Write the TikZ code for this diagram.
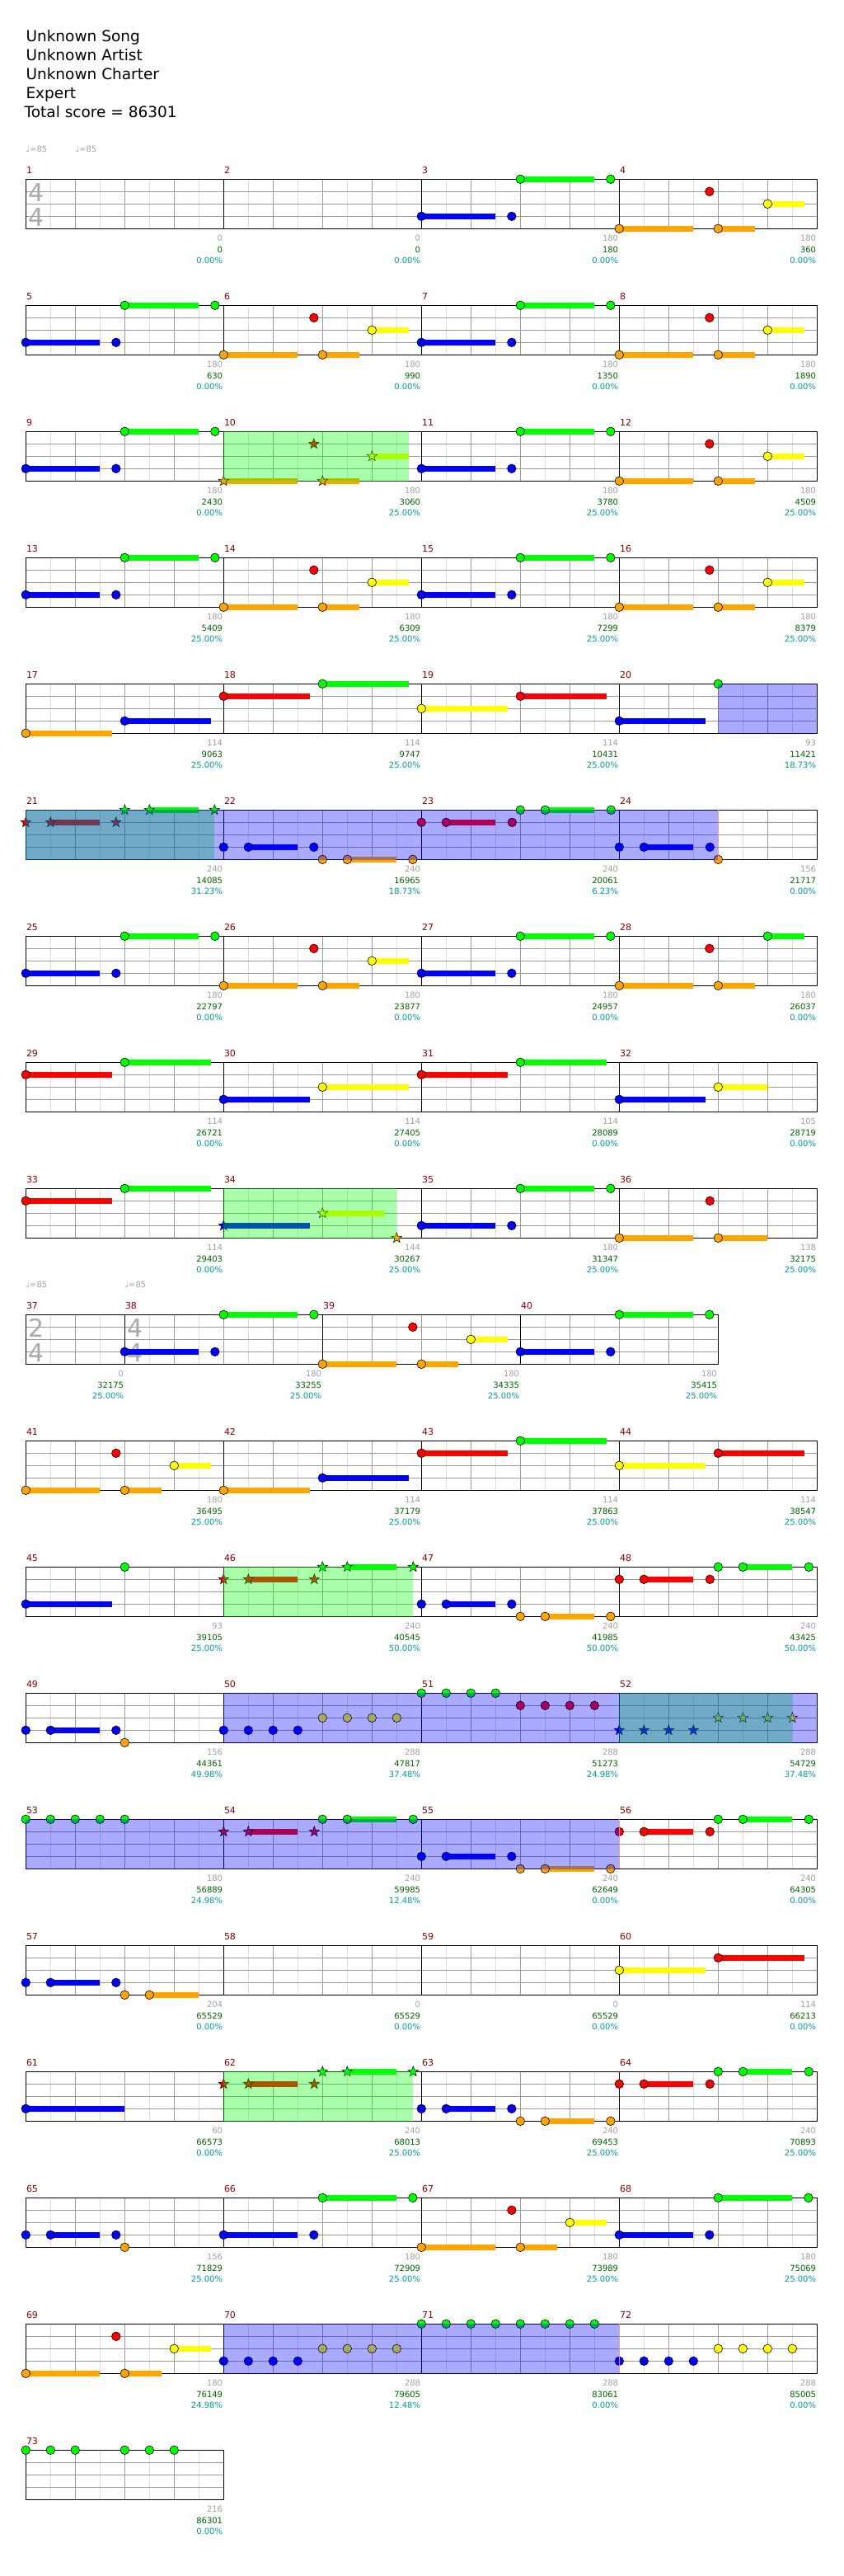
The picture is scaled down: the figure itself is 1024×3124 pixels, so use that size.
\documentclass[tikz,border=0pt]{standalone}
\usepackage{fontspec}
\setmainfont{DejaVu Sans}
\usetikzlibrary{shapes.geometric}
\definecolor{lane0}{RGB}{0,255,0}
\definecolor{lane1}{RGB}{255,0,0}
\definecolor{lane2}{RGB}{255,255,0}
\definecolor{lane3}{RGB}{0,0,255}
\definecolor{lane4}{RGB}{255,165,0}
\definecolor{mnumc}{RGB}{139,0,0}
\definecolor{gscore}{RGB}{0,100,0}
\definecolor{pctc}{RGB}{0,153,153}
\definecolor{glab}{RGB}{160,160,160}
\definecolor{lgr}{RGB}{221,221,221}
\definecolor{dgr}{RGB}{155,155,155}
\definecolor{tsc}{RGB}{170,170,170}
\definecolor{endc}{RGB}{240,150,150}
\tikzset{
 lgrid/.style={draw=lgr,line width=1pt},
 dgrid/.style={draw=dgr,line width=1pt},
 bline/.style={draw=black,line width=1pt},
 mnum/.style={anchor=base west,inner sep=0pt,text=mnumc,font=\fontsize{11}{12}\selectfont},
 lab/.style={anchor=base east,inner sep=0pt,font=\fontsize{10}{12}\selectfont},
 tsig/.style={inner sep=0pt,text=tsc,font=\fontsize{30}{30}\selectfont},
 titl/.style={anchor=base west,inner sep=0pt,font=\fontsize{18.5}{23}\selectfont},
 tempo/.style={anchor=base west,inner sep=0pt,text=glab,font=\fontsize{10}{12}\selectfont},
 starn/.style={star,star points=5,star point ratio=2.4,minimum size=13pt,inner sep=0pt,draw=black,line width=0.5pt},
 ovb/.style={fill=lane3,fill opacity=0.333},
 ovg/.style={fill=lane0,fill opacity=0.333},
 ovend/.style={draw=endc,line width=1pt},
}
\newcommand\Nt[2]{\filldraw[fill=lane#2,draw=black,line width=0.6pt] (#1,{#2*15}) circle (5.3pt);}
\newcommand\Su[3]{\fill[lane#2] (#1,{#2*15-3.5}) rectangle (#3,{#2*15+3.5});}
\newcommand\St[2]{\node[starn,fill=lane#2] at (#1,{#2*15}) {};}
\newcommand\M[3]{\begin{scope}[shift={(#1,#2)}]#3\end{scope}}
\newcommand\Lb[4]{\node[lab,text=glab] at ({#1-1},75.4) {#2};\node[lab,text=gscore] at ({#1-1},88.7) {#3};\node[lab,text=pctc] at ({#1-1},101.7) {#4};}
\newcommand\GF[1]{\draw[lgrid] (30,0)--(30,60) (90,0)--(90,60) (150,0)--(150,60) (210,0)--(210,60);
 \draw[dgrid] (60,0)--(60,60) (120,0)--(120,60) (180,0)--(180,60) (0,15)--(240,15) (0,30)--(240,30) (0,45)--(240,45);
 \draw[bline] (0,0) rectangle (240,60);
 \node[mnum] at (0.5,-7.3) {#1};}
\newcommand\GH[1]{\draw[lgrid] (30,0)--(30,60) (90,0)--(90,60);
 \draw[dgrid] (60,0)--(60,60) (0,15)--(120,15) (0,30)--(120,30) (0,45)--(120,45);
 \draw[bline] (0,0) rectangle (120,60);
 \node[mnum] at (0.5,-7.3) {#1};}
\newcommand\TS[2]{\node[tsig] at (13,16) {#1};\node[tsig] at (13,46) {#2};}
\newcommand\PA{\Su{0}{3}{89.5}\Su{120}{0}{209.5}\Nt{0}{3}\Nt{109.5}{3}\Nt{120}{0}\Nt{229.5}{0}}
\newcommand\PB[1]{\Su{0}{4}{89.5}\Su{120}{4}{164.5}\Su{180}{#1}{224.5}\Nt{0}{4}\Nt{109.5}{1}\Nt{120}{4}\Nt{180}{#1}}
\newcommand\PC{\Nt{0}{3}\Su{30}{3}{89.5}\Nt{30}{3}\Nt{109.5}{3}\Nt{120}{4}\Su{150}{4}{209.5}\Nt{150}{4}\Nt{229.5}{4}}
\newcommand\PD{\Nt{0}{1}\Su{30}{1}{90}\Nt{30}{1}\Nt{110}{1}\Nt{120}{0}\Su{150}{0}{210}\Nt{150}{0}\Nt{230}{0}}
\begin{document}
\begin{tikzpicture}[x=1pt,y=-1pt]
\useasboundingbox (0,0) rectangle (1024,3124);
\fill[white] (0,0) rectangle (1024,3124);
% title
\node[titl] at (31.3,50) {Unknown Song};
\node[titl] at (31.3,73) {Unknown Artist};
\node[titl] at (31.3,96) {Unknown Charter};
\node[titl] at (31.3,119) {Expert};
\node[titl] at (29.5,142) {Total score = 86301};
\node[tempo] at (31.3,184) {♩=85};
\node[tempo] at (91.3,184) {♩=85};
\node[tempo] at (31.3,1561) {♩=85};
\node[tempo] at (151.3,1561) {♩=85};
% grids
\foreach \r in {0,...,17}{
 \foreach \k in {0,...,3}{
  \pgfmathtruncatemacro\mm{4*\r+\k+1}
  \ifnum\r=9\relax\else
  \M{31.3+240*\k}{217.3+153*\r}{\GF{\mm}}
  \fi
 }}
\M{31.3}{1594.3}{\GH{37}}
\M{151.3}{1594.3}{\GF{38}}
\M{391.3}{1594.3}{\GF{39}}
\M{631.3}{1594.3}{\GF{40}}
\M{31.3}{2971.3}{\GF{73}}
% ---- row 0
\M{31.3}{217.3}{\TS{4}{4}\Lb{240}{0}{0}{0.00\%}}
\M{271.3}{217.3}{\Lb{240}{0}{0}{0.00\%}}
\M{511.3}{217.3}{\PA\Lb{240}{180}{180}{0.00\%}}
\M{751.3}{217.3}{\PB{2}\Lb{240}{180}{360}{0.00\%}}
% ---- row 1
\M{31.3}{370.3}{\PA\Lb{240}{180}{630}{0.00\%}}
\M{271.3}{370.3}{\PB{2}\Lb{240}{180}{990}{0.00\%}}
\M{511.3}{370.3}{\PA\Lb{240}{180}{1350}{0.00\%}}
\M{751.3}{370.3}{\PB{2}\Lb{240}{180}{1890}{0.00\%}}
% ---- row 2
\M{31.3}{523.3}{\PA\Lb{240}{180}{2430}{0.00\%}}
\M{271.3}{523.3}{\Su{0}{4}{89.5}\Su{120}{4}{164.5}\Su{180}{2}{224.5}\St{0}{4}\St{109.5}{1}\St{120}{4}\St{180}{2}
 \fill[ovg] (0,-0.5) rectangle (224.6,60.5);\Lb{240}{180}{3060}{25.00\%}}
\M{511.3}{523.3}{\PA\Lb{240}{180}{3780}{25.00\%}}
\M{751.3}{523.3}{\PB{2}\Lb{240}{180}{4509}{25.00\%}}
% ---- row 3
\M{31.3}{676.3}{\PA\Lb{240}{180}{5409}{25.00\%}}
\M{271.3}{676.3}{\PB{2}\Lb{240}{180}{6309}{25.00\%}}
\M{511.3}{676.3}{\PA\Lb{240}{180}{7299}{25.00\%}}
\M{751.3}{676.3}{\PB{2}\Lb{240}{180}{8379}{25.00\%}}
% ---- row 4
\M{31.3}{829.3}{\Su{0}{4}{104.5}\Nt{0}{4}\Su{120}{3}{224.5}\Nt{120}{3}\Lb{240}{114}{9063}{25.00\%}}
\M{271.3}{829.3}{\Su{0}{1}{104.5}\Nt{0}{1}\Su{120}{0}{224.5}\Nt{120}{0}\Lb{240}{114}{9747}{25.00\%}}
\M{511.3}{829.3}{\Su{0}{2}{104.5}\Nt{0}{2}\Su{120}{1}{224.5}\Nt{120}{1}\Lb{240}{114}{10431}{25.00\%}}
\M{751.3}{829.3}{\Su{0}{3}{104.5}\Nt{0}{3}\Nt{120}{0}\fill[ovb] (120,-0.5) rectangle (240,60.5);\Lb{240}{93}{11421}{18.73\%}}
% ---- row 5
\M{31.3}{982.3}{\St{0}{1}\Su{30}{1}{89.5}\St{30}{1}\St{109.5}{1}\St{120}{0}\Su{150}{0}{209.5}\St{150}{0}\St{229}{0}}
\M{271.3}{982.3}{\Nt{0}{3}\Su{30}{3}{90}\Nt{30}{3}\Nt{109.5}{3}\Nt{120}{4}\Su{150}{4}{210}\Nt{150}{4}\Nt{229.5}{4}}
\M{511.3}{982.3}{\PD}
\M{751.3}{982.3}{\Nt{0}{3}\Su{30}{3}{90}\Nt{30}{3}\Nt{110}{3}\Nt{120}{4}}
\M{31.3}{982.3}{\fill[ovg] (0,-0.5) rectangle (229,60.5);\fill[ovb] (0,-0.5) rectangle (840,60.5);
 \draw[ovend] (840,0)--(840,60);
 \Lb{240}{240}{14085}{31.23\%}}
\M{271.3}{982.3}{\Lb{240}{240}{16965}{18.73\%}}
\M{511.3}{982.3}{\Lb{240}{240}{20061}{6.23\%}}
\M{751.3}{982.3}{\Lb{240}{156}{21717}{0.00\%}}
% ---- row 6
\M{31.3}{1135.3}{\PA\Lb{240}{180}{22797}{0.00\%}}
\M{271.3}{1135.3}{\PB{2}\Lb{240}{180}{23877}{0.00\%}}
\M{511.3}{1135.3}{\PA\Lb{240}{180}{24957}{0.00\%}}
\M{751.3}{1135.3}{\PB{0}\Lb{240}{180}{26037}{0.00\%}}
% ---- row 7
\M{31.3}{1288.3}{\Su{0}{1}{104.5}\Nt{0}{1}\Su{120}{0}{224.5}\Nt{120}{0}\Lb{240}{114}{26721}{0.00\%}}
\M{271.3}{1288.3}{\Su{0}{3}{105}\Nt{0}{3}\Su{120}{2}{224.5}\Nt{120}{2}\Lb{240}{114}{27405}{0.00\%}}
\M{511.3}{1288.3}{\Su{0}{1}{104.5}\Nt{0}{1}\Su{120}{0}{224.5}\Nt{120}{0}\Lb{240}{114}{28089}{0.00\%}}
\M{751.3}{1288.3}{\Su{0}{3}{105}\Nt{0}{3}\Su{120}{2}{180}\Nt{120}{2}\Lb{240}{105}{28719}{0.00\%}}
% ---- row 8
\M{31.3}{1441.3}{\Su{0}{1}{104.5}\Nt{0}{1}\Su{120}{0}{224.5}\Nt{120}{0}\Lb{240}{114}{29403}{0.00\%}}
\M{271.3}{1441.3}{\Su{0}{3}{105}\St{0}{3}\Su{120}{2}{195}\St{120}{2}\St{210}{4}
 \fill[ovg] (0,-0.5) rectangle (210,60.5);\Lb{240}{144}{30267}{25.00\%}}
\M{511.3}{1441.3}{\PA\Lb{240}{180}{31347}{25.00\%}}
\M{751.3}{1441.3}{\Su{0}{4}{90}\Nt{0}{4}\Nt{110}{1}\Su{120}{4}{180}\Nt{120}{4}\Lb{240}{138}{32175}{25.00\%}}
% ---- row 9
\M{31.3}{1594.3}{\TS{2}{4}\Lb{120}{0}{32175}{25.00\%}}
\M{151.3}{1594.3}{\TS{4}{4}\PA\Lb{240}{180}{33255}{25.00\%}}
\M{391.3}{1594.3}{\PB{2}\Lb{240}{180}{34335}{25.00\%}}
\M{631.3}{1594.3}{\PA\Lb{240}{180}{35415}{25.00\%}}
% ---- row 10
\M{31.3}{1747.3}{\PB{2}\Lb{240}{180}{36495}{25.00\%}}
\M{271.3}{1747.3}{\Su{0}{4}{105}\Nt{0}{4}\Su{120}{3}{224.5}\Nt{120}{3}\Lb{240}{114}{37179}{25.00\%}}
\M{511.3}{1747.3}{\Su{0}{1}{104.5}\Nt{0}{1}\Su{120}{0}{224.5}\Nt{120}{0}\Lb{240}{114}{37863}{25.00\%}}
\M{751.3}{1747.3}{\Su{0}{2}{105}\Nt{0}{2}\Su{120}{1}{224.5}\Nt{120}{1}\Lb{240}{114}{38547}{25.00\%}}
% ---- row 11
\M{31.3}{1900.3}{\Su{0}{3}{104.5}\Nt{0}{3}\Nt{120}{0}\Lb{240}{93}{39105}{25.00\%}}
\M{271.3}{1900.3}{\St{0}{1}\Su{30}{1}{90}\St{30}{1}\St{110}{1}\St{120}{0}\Su{150}{0}{210}\St{150}{0}\St{230}{0}
 \fill[ovg] (0,-0.5) rectangle (230,60.5);\Lb{240}{240}{40545}{50.00\%}}
\M{511.3}{1900.3}{\PC\Lb{240}{240}{41985}{50.00\%}}
\M{751.3}{1900.3}{\PD\Lb{240}{240}{43425}{50.00\%}}
% ---- row 12
\M{31.3}{2053.3}{\Nt{0}{3}\Su{30}{3}{89.5}\Nt{30}{3}\Nt{109.5}{3}\Nt{120}{4}\Lb{240}{156}{44361}{49.98\%}}
\M{271.3}{2053.3}{\Nt{0}{3}\Nt{30}{3}\Nt{60}{3}\Nt{90}{3}\Nt{120}{2}\Nt{150}{2}\Nt{180}{2}\Nt{210}{2}}
\M{511.3}{2053.3}{\Nt{0}{0}\Nt{30}{0}\Nt{60}{0}\Nt{90}{0}\Nt{120}{1}\Nt{150}{1}\Nt{180}{1}\Nt{210}{1}}
\M{751.3}{2053.3}{\St{0}{3}\St{30}{3}\St{60}{3}\St{90}{3}\St{120}{2}\St{150}{2}\St{180}{2}\St{210}{2}}
\M{751.3}{2053.3}{\fill[ovg] (0,-0.5) rectangle (210,60.5);}
\M{271.3}{2053.3}{\fill[ovb] (0,-0.5) rectangle (720,60.5);\Lb{240}{288}{47817}{37.48\%}}
\M{511.3}{2053.3}{\Lb{240}{288}{51273}{24.98\%}}
\M{751.3}{2053.3}{\Lb{240}{288}{54729}{37.48\%}}
% ---- row 13
\M{31.3}{2206.3}{\Nt{0}{0}\Nt{30}{0}\Nt{60}{0}\Nt{90}{0}\Nt{120}{0}}
\M{271.3}{2206.3}{\St{0}{1}\Su{30}{1}{90}\St{30}{1}\St{110}{1}\Nt{120}{0}\Su{150}{0}{210}\Nt{150}{0}\Nt{230}{0}}
\M{511.3}{2206.3}{\PC}
\M{751.3}{2206.3}{\PD}
\M{31.3}{2206.3}{\fill[ovb] (0,-0.5) rectangle (720,60.5);\draw[ovend] (720,0)--(720,60);\Lb{240}{180}{56889}{24.98\%}}
\M{271.3}{2206.3}{\Lb{240}{240}{59985}{12.48\%}}
\M{511.3}{2206.3}{\Lb{240}{240}{62649}{0.00\%}}
\M{751.3}{2206.3}{\Lb{240}{240}{64305}{0.00\%}}
% ---- row 14
\M{31.3}{2359.3}{\Nt{0}{3}\Su{30}{3}{89.5}\Nt{30}{3}\Nt{109.5}{3}\Nt{120}{4}\Su{150}{4}{209.5}\Nt{150}{4}\Lb{240}{204}{65529}{0.00\%}}
\M{271.3}{2359.3}{\Lb{240}{0}{65529}{0.00\%}}
\M{511.3}{2359.3}{\Lb{240}{0}{65529}{0.00\%}}
\M{751.3}{2359.3}{\Su{0}{2}{105}\Nt{0}{2}\Su{120}{1}{224.5}\Nt{120}{1}\Lb{240}{114}{66213}{0.00\%}}
% ---- row 15
\M{31.3}{2512.3}{\Su{0}{3}{120}\Nt{0}{3}\Lb{240}{60}{66573}{0.00\%}}
\M{271.3}{2512.3}{\St{0}{1}\Su{30}{1}{90}\St{30}{1}\St{110}{1}\St{120}{0}\Su{150}{0}{210}\St{150}{0}\St{230}{0}
 \fill[ovg] (0,-0.5) rectangle (230,60.5);\Lb{240}{240}{68013}{25.00\%}}
\M{511.3}{2512.3}{\PC\Lb{240}{240}{69453}{25.00\%}}
\M{751.3}{2512.3}{\PD\Lb{240}{240}{70893}{25.00\%}}
% ---- row 16
\M{31.3}{2665.3}{\Nt{0}{3}\Su{30}{3}{89.5}\Nt{30}{3}\Nt{109.5}{3}\Nt{120}{4}\Lb{240}{156}{71829}{25.00\%}}
\M{271.3}{2665.3}{\PA\Lb{240}{180}{72909}{25.00\%}}
\M{511.3}{2665.3}{\PB{2}\Lb{240}{180}{73989}{25.00\%}}
\M{751.3}{2665.3}{\PA\Lb{240}{180}{75069}{25.00\%}}
% ---- row 17
\M{31.3}{2818.3}{\PB{2}\Lb{240}{180}{76149}{24.98\%}}
\M{271.3}{2818.3}{\Nt{0}{3}\Nt{30}{3}\Nt{60}{3}\Nt{90}{3}\Nt{120}{2}\Nt{150}{2}\Nt{180}{2}\Nt{210}{2}}
\M{511.3}{2818.3}{\Nt{0}{0}\Nt{30}{0}\Nt{60}{0}\Nt{90}{0}\Nt{120}{0}\Nt{150}{0}\Nt{180}{0}\Nt{210}{0}}
\M{751.3}{2818.3}{\Nt{0}{3}\Nt{30}{3}\Nt{60}{3}\Nt{90}{3}\Nt{120}{2}\Nt{150}{2}\Nt{180}{2}\Nt{210}{2}}
\M{271.3}{2818.3}{\fill[ovb] (0,-0.5) rectangle (480,60.5);\draw[ovend] (480,0)--(480,60);\Lb{240}{288}{79605}{12.48\%}}
\M{511.3}{2818.3}{\Lb{240}{288}{83061}{0.00\%}}
\M{751.3}{2818.3}{\Lb{240}{288}{85005}{0.00\%}}
% ---- row 18
\M{31.3}{2971.3}{\Nt{0}{0}\Nt{30}{0}\Nt{60}{0}\Nt{120}{0}\Nt{150}{0}\Nt{180}{0}\Lb{240}{216}{86301}{0.00\%}}
\end{tikzpicture}
\end{document}
